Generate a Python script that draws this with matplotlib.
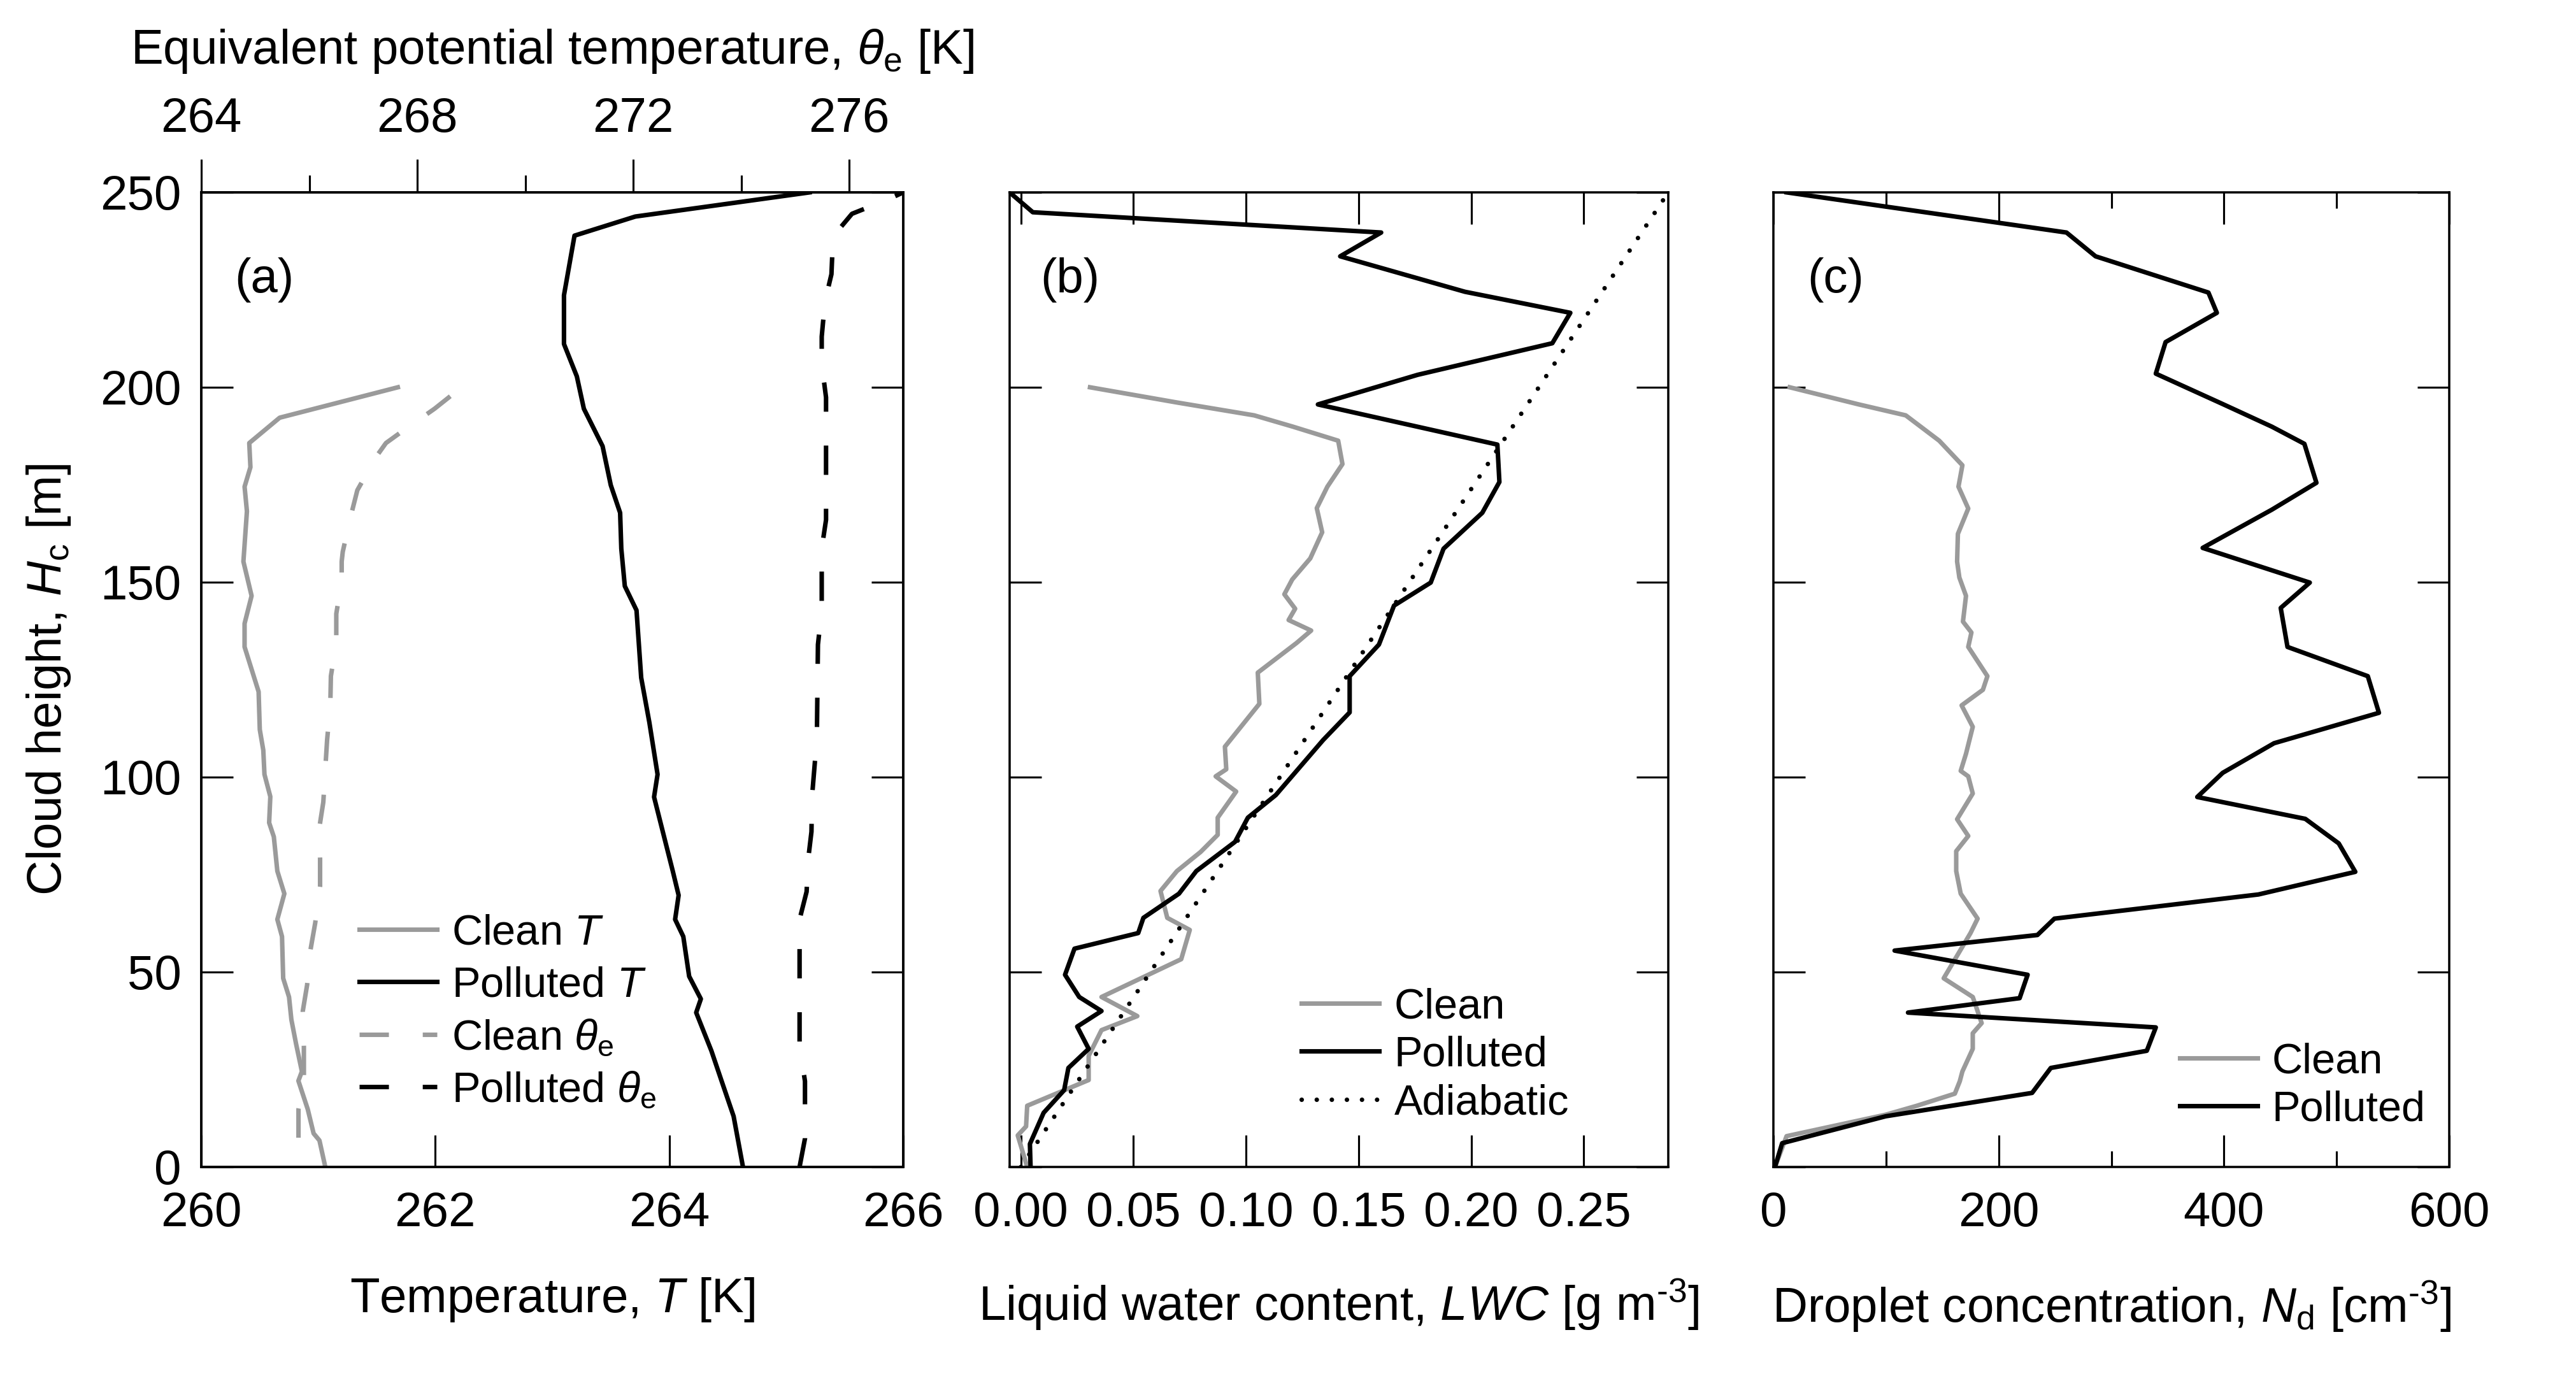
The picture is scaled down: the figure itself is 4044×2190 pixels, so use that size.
import matplotlib
matplotlib.use("Agg")
import matplotlib.pyplot as plt
from matplotlib.ticker import MultipleLocator, FormatStrFormatter

plt.rcParams['font.family'] = ['Liberation Sans', 'DejaVu Sans']
plt.rcParams['mathtext.fontset'] = 'custom'
plt.rcParams['mathtext.rm'] = 'Liberation Sans'
plt.rcParams['mathtext.it'] = 'Liberation Sans:italic'
plt.rcParams['font.size'] = 18.3

GRAY = '#9a9a9a'
LW = 1.7
DASH = (6.5, 7.5)
LEG_FS = 16

# ---- panel (a): temperature profiles ----
pol_T_h = [0, 13.0, 22.7, 29.8, 39.6, 43.1, 48.9, 59.1, 63.5, 69.7, 75.9, 83.0,
           94.9, 100.7, 114.0, 125.5, 142.8, 149.0, 158.6, 167.8, 174.9, 184.9,
           194.5, 202.8, 211.1, 223.6, 238.9, 243.8, 250]
pol_T = [264.63, 264.55, 264.44, 264.36, 264.23, 264.27, 264.17, 264.12, 264.05,
         264.08, 264.03, 263.97, 263.87, 263.90, 263.83, 263.76, 263.72, 263.62,
         263.59, 263.58, 263.50, 263.43, 263.27, 263.21, 263.10, 263.10, 263.19,
         263.71, 265.20]

cln_T_h = [0, 6.8, 8.6, 14.8, 22.1, 24.5, 31.6, 37.8, 43.6, 48.4, 59.1, 63.5, 70.1,
           75.9, 84.7, 88.3, 95.0, 100.7, 106.9, 112.2, 121.9, 133.4, 139.4, 146.5,
           155.3, 168.2, 174.5, 179.5, 185.7, 192.2, 200]
cln_T = [261.06, 261.01, 260.96, 260.91, 260.83, 260.86, 260.81, 260.77, 260.75,
         260.70, 260.69, 260.65, 260.71, 260.65, 260.62, 260.58, 260.59, 260.54,
         260.53, 260.50, 260.49, 260.37, 260.37, 260.43, 260.36, 260.39, 260.37,
         260.42, 260.41, 260.67, 261.68]

pol_the_h = [0, 7.3, 22.0, 31.0, 56.0, 63.5, 70.6, 79.0, 86.0, 94.9, 110.0, 134.0,
             142.8, 158.6, 166.0, 197.4, 206.0, 213.0, 222.0, 229.0, 238.7, 244.5,
             248.2, 250]
pol_the = [275.08, 275.18, 275.18, 275.08, 275.08, 275.08, 275.21, 275.24, 275.30,
           275.31, 275.40, 275.42, 275.49, 275.49, 275.57, 275.57, 275.49, 275.49,
           275.55, 275.67, 275.70, 276.05, 276.72, 277.0]

cln_the_h = [7.5, 14.8, 22.0, 31.0, 40.0, 46.7, 55.5, 62.6, 72.0, 79.0, 86.5, 93.6,
             102.9, 109.5, 118.8, 125.9, 134.6, 141.9, 150.4, 155.3, 157.8, 166.5,
             173.6, 182.4, 185.7, 188.2, 194.5, 200]
cln_the = [265.80, 265.80, 265.90, 265.90, 265.88, 265.96, 266.02, 266.11, 266.20,
           266.20, 266.18, 266.26, 266.30, 266.33, 266.39, 266.40, 266.50, 266.50,
           266.60, 266.60, 266.62, 266.76, 266.89, 267.25, 267.42, 267.67, 268.32,
           268.82]

# ---- panel (b): liquid water content ----
pol_lwc_h = [0, 5.9, 13.9, 19.7, 25.4, 30.3, 36.0, 40.0, 43.6, 49.3, 56.0, 60.0,
             63.9, 70.1, 75.9, 83.4, 89.6, 95.4, 109.5, 116.6, 125.9, 134.0, 144.0,
             149.9, 158.6, 167.8, 175.7, 185.3, 195.6, 203.2, 211.3, 219.1, 224.5,
             233.6, 239.7, 244.9, 250]
pol_lwc = [0.0043, 0.0040, 0.0101, 0.0192, 0.0211, 0.0301, 0.0250, 0.0358, 0.0259,
           0.0196, 0.0238, 0.0521, 0.0544, 0.0702, 0.0779, 0.0951, 0.1008, 0.1132,
           0.1342, 0.1460, 0.1460, 0.1590, 0.1657, 0.1820, 0.1877, 0.2049, 0.2125,
           0.2116, 0.1319, 0.1762, 0.2360, 0.2440, 0.1972, 0.1418, 0.1600, 0.0053,
           -0.005]

cln_lwc_h = [0, 8.1, 10.4, 15.7, 22.3, 28.5, 35.1, 38.7, 43.6, 53.3, 60.8, 63.9,
             70.8, 75.9, 80.8, 85.2, 89.6, 96.3, 100.2, 102.0, 107.8, 118.8, 126.8,
             134.4, 137.6, 140.3, 143.2, 146.9, 150.7, 156.1, 162.8, 169.0, 174.5,
             180.3, 186.3, 189.9, 192.8, 196.1, 200]
cln_lwc = [0.0028, -0.0014, 0.0023, 0.0028, 0.0301, 0.0301, 0.0358, 0.0517, 0.0358,
           0.0712, 0.0750, 0.0650, 0.0620, 0.0693, 0.0798, 0.0874, 0.0874, 0.0956,
           0.0865, 0.0912, 0.0906, 0.1059, 0.1052, 0.1224, 0.1289, 0.1189, 0.1218,
           0.1170, 0.1205, 0.1285, 0.1338, 0.1314, 0.1361, 0.1428, 0.1409, 0.1208,
           0.1036, 0.0693, 0.0307]

adi_h = [0, 250]
adi_lwc = [0.0, 0.2875]

# ---- panel (c): droplet concentration ----
pol_nd_h = [0, 6.1, 13.0, 19.0, 25.4, 29.8, 35.8, 39.6, 43.3, 49.3, 55.5, 59.5, 63.7,
            69.9, 75.7, 83.0, 89.3, 94.9, 101.1, 108.7, 116.5, 125.9, 133.4, 143.4,
            149.9, 158.8, 168.6, 175.5, 185.5, 189.9, 195.7, 203.5, 211.6, 219.1,
            224.3, 233.6, 239.7, 250]
pol_nd = [1.4, 7.8, 99.7, 229.7, 246.3, 331.5, 339.5, 119.5, 218.6, 225.7, 107.6,
          234.4, 249.5, 430.6, 516.6, 501.9, 472.2, 376.3, 398.9, 444.5, 537.6, 527.7,
          456.4, 450.4, 476.2, 381.1, 442.5, 482.1, 471.4, 442.5, 398.9, 339.5, 348.2,
          393.7, 386.2, 286.0, 260.2, 11.7]

cln_nd_h = [0, 7.9, 13.4, 15.7, 18.8, 22.0, 24.5, 30.3, 34.3, 36.9, 43.6, 48.4, 60.0,
            63.7, 70.1, 75.9, 81.0, 84.9, 89.2, 95.8, 100.2, 101.6, 106.0, 112.9,
            118.4, 122.4, 125.9, 133.4, 137.1, 139.9, 146.5, 151.2, 155.3, 162.4,
            168.9, 174.5, 180.0, 186.3, 192.8, 195.6, 200]
cln_nd = [1.4, 11.7, 99.7, 127.4, 161.1, 165.5, 167.8, 177.0, 177.0, 184.9, 177.0,
          151.2, 175.0, 181.3, 166.3, 162.3, 162.3, 173.0, 163.1, 177.0, 173.0, 166.3,
          171.0, 177.0, 167.1, 186.0, 190.0, 173.0, 175.8, 168.3, 171.0, 165.1, 163.1,
          163.8, 173.0, 164.3, 167.8, 147.2, 117.5, 75.9, 14.5]

W, H = 4045, 2190
fig = plt.figure(figsize=(W / 300, H / 300), dpi=300)


def box(x0, x1, y0=302, y1=1832):
    return [x0 / W, 1 - y1 / H, (x1 - x0) / W, (y1 - y0) / H]


ax_a = fig.add_axes(box(316, 1418))
ax_b = fig.add_axes(box(1585, 2619))
ax_c = fig.add_axes(box(2784, 3845))


def style(ax, top=True):
    for s in ax.spines.values():
        s.set_linewidth(0.85)
    ax.set_ylim(0, 250)
    ax.yaxis.set_major_locator(MultipleLocator(50))
    ax.tick_params(which='both', direction='in', width=0.75, left=True, right=True,
                   bottom=True, top=top)
    ax.tick_params(which='major', length=12)
    ax.tick_params(which='minor', length=6)
    ax.tick_params(axis='x', pad=9)
    ax.tick_params(axis='y', pad=7.5)


def add_legend(ax, handles, labels, x, y, spacing):
    ax.legend(handles, labels, loc='upper left', bbox_to_anchor=(x, y),
              frameon=False, borderpad=0, borderaxespad=0, fontsize=LEG_FS,
              handlelength=1.83, handletextpad=0.35, labelspacing=spacing)


# panel (a)
style(ax_a, top=False)
ax_a.set_xlim(260, 266)
ax_a.xaxis.set_major_locator(MultipleLocator(2))
ax_a.plot(cln_T, cln_T_h, color=GRAY, lw=LW, label='Clean $T$')
ax_a.plot(pol_T, pol_T_h, color='k', lw=LW, label='Polluted $T$')
ax_a.set_ylabel('Cloud height, $H_\\mathrm{c}$ [m]')
ax_a.yaxis.set_label_coords(-0.183, 0.5)

ax_t = ax_a.twiny()
ax_t.set_xlim(264, 277)
ax_t.xaxis.set_major_locator(MultipleLocator(4))
ax_t.xaxis.set_minor_locator(MultipleLocator(2))
ax_t.tick_params(which='both', direction='out', width=0.75, pad=6.5)
ax_t.tick_params(which='major', length=12.5)
ax_t.tick_params(which='minor', length=6.5)
for s in ax_t.spines.values():
    s.set_linewidth(0.85)
ax_t.plot(cln_the, cln_the_h, color=GRAY, lw=LW, dashes=DASH,
          label='Clean $\\theta_\\mathrm{e}$')
ax_t.plot(pol_the, pol_the_h, color='k', lw=LW, dashes=DASH,
          label='Polluted $\\theta_\\mathrm{e}$')
ax_t.text(0.5, 1.132, 'Equivalent potential temperature, $\\theta_\\mathrm{e}$ [K]',
          transform=ax_a.transAxes, ha='center', va='baseline')

h1, l1 = ax_a.get_legend_handles_labels()
h2, l2 = ax_t.get_legend_handles_labels()
add_legend(ax_t, h1 + h2, l1 + l2, 0.225, 0.260, 0.30)

# panel (b)
style(ax_b)
ax_b.set_xlim(-0.005, 0.2875)
ax_b.xaxis.set_major_locator(MultipleLocator(0.05))
ax_b.xaxis.set_major_formatter(FormatStrFormatter('%.2f'))
ax_b.tick_params(labelleft=False)
ax_b.plot(cln_lwc, cln_lwc_h, color=GRAY, lw=LW, label='Clean')
ax_b.plot(pol_lwc, pol_lwc_h, color='k', lw=LW, label='Polluted')
ax_b.plot(adi_lwc, adi_h, color='k', lw=LW, linestyle=(0, (0.01, 3.33)),
          dash_capstyle='round', label='Adiabatic')
hb, lb = ax_b.get_legend_handles_labels()
add_legend(ax_b, hb, lb, 0.443, 0.184, 0.2)

# panel (c)
style(ax_c)
ax_c.set_xlim(0, 600)
ax_c.xaxis.set_major_locator(MultipleLocator(200))
ax_c.xaxis.set_minor_locator(MultipleLocator(100))
ax_c.tick_params(labelleft=False)
ax_c.plot(cln_nd, cln_nd_h, color=GRAY, lw=LW, label='Clean')
ax_c.plot(pol_nd, pol_nd_h, color='k', lw=LW, label='Polluted')
hc, lc = ax_c.get_legend_handles_labels()
add_legend(ax_c, hc, lc, 0.601, 0.128, 0.2)

# x labels and panel tags
ax_a.text(0.5, -0.149, 'Temperature, $T$ [K]', transform=ax_a.transAxes,
          ha='center', va='baseline')
ax_b.text(0.5, -0.1575, 'Liquid water content, $LWC$ [g m$^{\\text{-3}}$]',
          transform=ax_b.transAxes, ha='center', va='baseline')
ax_c.text(0.5, -0.159, 'Droplet concentration, $N_\\mathrm{d}$ [cm$^{\\text{-3}}$]',
          transform=ax_c.transAxes, ha='center', va='baseline')
for ax, tag, x in [(ax_a, '(a)', 0.047), (ax_b, '(b)', 0.047), (ax_c, '(c)', 0.050)]:
    ax.text(x, 0.910, tag, transform=ax.transAxes, ha='left', va='center')

fig.savefig('out.png', dpi=300)
